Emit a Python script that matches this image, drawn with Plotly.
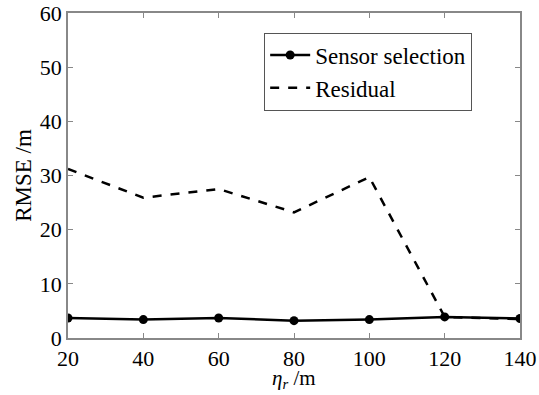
import plotly.graph_objects as go

eta_r = [20, 40, 60, 80, 100, 120, 140]
sensor_selection = [3.7, 3.4, 3.7, 3.2, 3.4, 3.9, 3.6]
residual = [31.2, 25.9, 27.5, 23.2, 29.7, 3.9, 3.5]
x_ticks = [20, 40, 60, 80, 100, 120, 140]
y_ticks = [0, 10, 20, 30, 40, 50, 60]
x_title = "<i>η<sub>r</sub></i> /m"
y_title = "RMSE /m"

FONT = "Liberation Serif"
AX = "#888888"
FS = 23

fig = go.Figure()
fig.add_trace(go.Scatter(
    x=eta_r, y=sensor_selection, name="Sensor selection",
    mode="lines+markers", line=dict(color="black", width=2.5),
    marker=dict(color="black", size=9)))
fig.add_trace(go.Scatter(
    x=eta_r, y=residual, name="Residual",
    mode="lines", line=dict(color="black", width=2.5, dash="dash")))

fig.update_layout(
    width=539, height=395,
    margin=dict(l=68, r=19, t=13, b=57, autoexpand=False),
    paper_bgcolor="white", plot_bgcolor="white",
    font=dict(family=FONT, size=FS, color="black"),
    showlegend=True,
    legend=dict(x=0.434, y=0.94, xanchor="left", yanchor="top",
                bgcolor="white", bordercolor="#555555", borderwidth=1,
                font=dict(family=FONT, size=FS), tracegroupgap=0,
                itemwidth=40),
    xaxis=dict(range=[20, 140], tickvals=x_ticks, ticks="inside", ticklen=5,
               tickcolor=AX, showline=True, linecolor=AX, linewidth=1.5,
               mirror="ticks", showgrid=False, zeroline=False, automargin=False,
               tickfont=dict(family=FONT, size=22)),
    yaxis=dict(range=[0, 60], tickvals=y_ticks, ticks="inside", ticklen=5,
               tickcolor=AX, showline=True, linecolor=AX, linewidth=1.5,
               mirror="ticks", showgrid=False, zeroline=False, automargin=False,
               title=dict(text=y_title, standoff=2,
                          font=dict(family=FONT, size=FS)),
               tickfont=dict(family=FONT, size=22)),
    annotations=[dict(text=x_title, xref="paper", yref="paper",
                      x=0.5, y=-0.169, xanchor="center", yanchor="bottom",
                      showarrow=False, borderpad=0,
                      font=dict(family=FONT, size=21))],
)

fig.write_html("out.html")
